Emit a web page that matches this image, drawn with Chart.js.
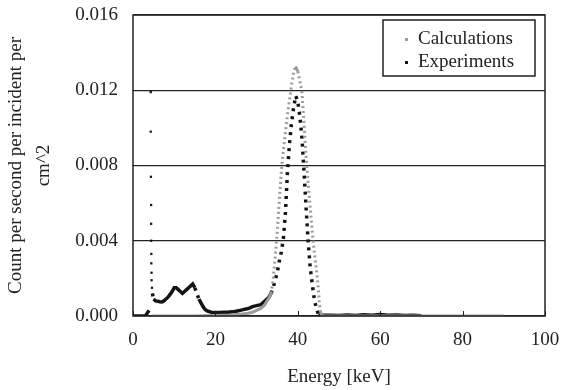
<!DOCTYPE html>
<html>
<head>
<meta charset="utf-8">
<script src="https://cdn.jsdelivr.net/npm/chart.js@4.4.1/dist/chart.umd.min.js"></script>
<style>
  html, body { margin: 0; padding: 0; background: #ffffff; }
  canvas { display: block; }
</style>
</head>
<body>
<canvas id="spectrum" width="562" height="390"></canvas>
<script>
// values (energy in keV, counts per second per incident per cm^2)
var calcEnergy = [4.5, 10, 15, 20, 24, 26, 28, 29, 30, 31, 31.5, 32, 32.5, 33, 33.5, 34, 34.5, 35, 35.5, 36,
    36.5, 37, 37.5, 38, 38.5, 39, 39.3, 39.6, 40, 40.5, 41, 41.5, 42, 42.5, 43, 43.5, 44, 44.5, 44.9, 45.2,
    45.5, 46, 50, 60, 70, 80, 90];
var calcCounts = [0, 0, 0, 0.00002, 0.00005, 0.0001, 0.00015, 0.0002, 0.0003, 0.0004, 0.0005, 0.0006, 0.0008, 0.00095, 0.0012, 0.0019, 0.0031, 0.0044, 0.0061, 0.0077,
    0.0088, 0.0098, 0.0107, 0.0115, 0.0123, 0.0130, 0.0132, 0.0132, 0.0130, 0.0125, 0.0119, 0.0103, 0.0085, 0.0071, 0.0058, 0.0045, 0.0034, 0.0025, 0.0017, 0.0008,
    0.0002, 0, 0, 0, 0, 0, 0];

var expEnergy = [0, 1, 2, 3, 3.9, 4.0, 4.7, 5, 5.5, 6, 6.5, 7, 7.5, 8, 8.5, 9, 9.5, 10, 10.5, 11,
    11.5, 12, 12.5, 13, 13.5, 14, 14.5, 15, 15.5, 16, 16.5, 17, 17.5, 18, 19, 20, 21, 22, 23, 24,
    25, 26, 27, 28, 29, 30, 31, 32, 33, 33.5, 34, 34.5, 35, 35.5, 36, 36.5, 37, 37.5, 38, 38.5,
    39, 39.5, 40, 40.5, 41, 41.5, 42, 42.5, 43, 43.5, 44, 44.5, 45, 46, 48, 50, 52, 54, 56, 58,
    60, 62, 64, 66, 68, 70];
var expCounts = [0, 0, 0, 0, 0.0003, null, 0.0012, 0.0009, 0.0008, 0.00078, 0.00076, 0.00075, 0.0008, 0.0009, 0.001, 0.00115, 0.0013, 0.0015, 0.0015, 0.0014,
    0.0013, 0.0012, 0.0013, 0.0014, 0.0015, 0.0016, 0.0017, 0.0015, 0.0012, 0.0009, 0.0007, 0.0005, 0.00035, 0.00027, 0.0002, 0.00018, 0.00018, 0.0002, 0.0002, 0.00022,
    0.00025, 0.0003, 0.00035, 0.0004, 0.0005, 0.00055, 0.0006, 0.0008, 0.001, 0.0012, 0.0015, 0.0019, 0.0023, 0.0029, 0.0034, 0.0041, 0.0055, 0.0077, 0.0092, 0.0103,
    0.0111, 0.0117, 0.0114, 0.0106, 0.0095, 0.0077, 0.0058, 0.0040, 0.0026, 0.0017, 0.0009, 0.0004, 0.0001, 0.00005, 0.00004, 0.00003, 0.00005, 0.00003, 0.00006, 0.00004,
    0.00008, 0.00004, 0.00005, 0.00003, 0.00004, 0.00002];

// low energy spike of the measurement (separate dots)
var spikeEnergy = [4.3, 4.3, 4.35, 4.4, 4.4, 4.4, 4.45, 4.45, 4.5, 4.5, 4.6];
var spikeCounts = [0.0119, 0.0098, 0.0074, 0.0059, 0.0049, 0.0040, 0.0033, 0.0028, 0.0023, 0.0019, 0.0015];

var seriesNames = ['Calculations', 'Experiments'];
var xTicks = [0, 20, 40, 60, 80, 100];
var yTicks = [0, 0.004, 0.008, 0.012, 0.016];

var GREY = '#9c9c9c';
var BLACK = '#141414';
var FONT = 'Liberation Serif';

function toPoints(xs, ys) {
    var pts = [];
    for (var i = 0; i < xs.length; i++) {
        pts.push({ x: xs[i], y: ys[i] });
    }
    return pts;
}

// steep parts of the curves look like separate dots in the original
function steepDash(dash) {
    return function (ctx) {
        var dx = Math.abs(ctx.p1.x - ctx.p0.x);
        var dy = Math.abs(ctx.p1.y - ctx.p0.y);
        return dy > 2.5 * dx ? dash : undefined;
    };
}

var framePlugin = {
    id: 'frame',
    afterDatasetsDraw: function (chart) {
        var ctx = chart.ctx;
        var a = chart.chartArea;
        var xs = chart.scales.x;
        ctx.save();
        ctx.strokeStyle = '#222';
        ctx.lineWidth = 1.5;
        ctx.strokeRect(a.left, a.top, a.right - a.left, a.bottom - a.top);
        ctx.lineWidth = 1;
        xTicks.forEach(function (v) {
            var px = Math.round(xs.getPixelForValue(v)) + 0.5;
            ctx.beginPath();
            ctx.moveTo(px, a.bottom);
            ctx.lineTo(px, a.bottom - 5);
            ctx.stroke();
        });
        ctx.restore();
    }
};

var legendBoxPlugin = {
    id: 'legendBox',
    afterDraw: function (chart) {
        var ctx = chart.ctx;
        var a = chart.chartArea;
        var left = a.right - 162, top = a.top + 5, w = 152, h = 56;
        ctx.save();
        ctx.fillStyle = '#ffffff';
        ctx.fillRect(left, top, w, h);
        ctx.strokeStyle = '#222';
        ctx.lineWidth = 1.5;
        ctx.strokeRect(left, top, w, h);
        ctx.font = '19px "' + FONT + '"';
        ctx.textBaseline = 'middle';
        var colors = [GREY, BLACK];
        seriesNames.forEach(function (name, i) {
            var y = top + 19 + i * 23;
            ctx.fillStyle = colors[i];
            ctx.fillRect(left + 22, y - 1, 3, 3);
            ctx.fillStyle = '#222';
            ctx.fillText(name, left + 35, y);
        });
        ctx.restore();
    }
};

var chart = new Chart(document.getElementById('spectrum'), {
    type: 'scatter',
    data: {
        datasets: [
            {
                label: seriesNames[0],
                data: toPoints(calcEnergy, calcCounts),
                showLine: true,
                borderColor: GREY,
                backgroundColor: GREY,
                borderWidth: 3,
                pointRadius: 0,
                clip: 0,
                segment: { borderDash: steepDash([2, 3]) }
            },
            {
                label: seriesNames[1],
                data: toPoints(expEnergy, expCounts),
                showLine: true,
                spanGaps: false,
                borderColor: BLACK,
                backgroundColor: BLACK,
                borderWidth: 3.5,
                pointRadius: 0,
                clip: 0,
                segment: { borderDash: steepDash([3, 5]) }
            },
            {
                label: seriesNames[1],
                data: toPoints(spikeEnergy, spikeCounts),
                showLine: false,
                pointStyle: 'rect',
                pointRadius: 1.6,
                borderWidth: 0,
                backgroundColor: BLACK,
                clip: 0
            }
        ]
    },
    options: {
        responsive: false,
        animation: false,
        devicePixelRatio: 1,
        layout: { padding: { top: 15, right: 17, left: 0, bottom: 0 } },
        plugins: {
            legend: { display: false },
            tooltip: { enabled: false }
        },
        scales: {
            x: {
                type: 'linear',
                min: 0,
                max: 100,
                afterFit: function (s) { s.height = 74; s.paddingLeft = 0; s.paddingRight = 0; },
                afterBuildTicks: function (s) { s.ticks = xTicks.map(function (v) { return { value: v }; }); },
                grid: { display: false, drawTicks: false },
                border: { display: false },
                ticks: {
                    padding: 13,
                    color: '#222',
                    font: { family: FONT, size: 19 }
                },
                title: {
                    display: true,
                    text: 'Energy [keV]',
                    color: '#222',
                    padding: { top: 0, bottom: 2 },
                    font: { family: FONT, size: 19, lineHeight: 1.2 }
                }
            },
            y: {
                type: 'linear',
                min: 0,
                max: 0.016,
                afterFit: function (s) { s.width = 133; s.paddingTop = 0; s.paddingBottom = 0; },
                afterBuildTicks: function (s) { s.ticks = yTicks.map(function (v) { return { value: v }; }); },
                grid: { color: '#222', lineWidth: 1.2, drawTicks: false },
                border: { display: false },
                ticks: {
                    padding: 15,
                    color: '#222',
                    font: { family: FONT, size: 19 },
                    callback: function (v) { return v.toFixed(3); }
                },
                title: {
                    display: true,
                    text: ['Count per second per incident per', 'cm^2'],
                    color: '#222',
                    padding: { top: 2, bottom: 0 },
                    font: { family: FONT, size: 19, lineHeight: 1.47 }
                }
            }
        }
    },
    plugins: [framePlugin, legendBoxPlugin]
});
</script>
</body>
</html>
